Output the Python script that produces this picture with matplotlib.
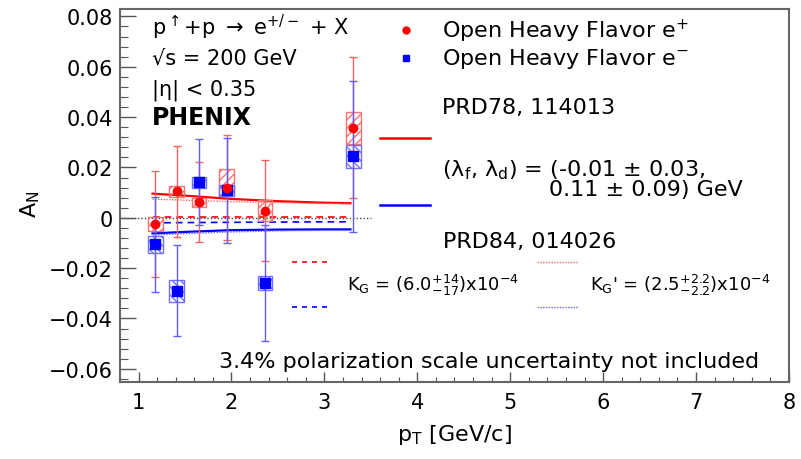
import numpy as np
import matplotlib
matplotlib.use("Agg")
import matplotlib.pyplot as plt
from matplotlib.patches import Rectangle
from matplotlib.ticker import MultipleLocator

plt.rcParams["font.family"] = ["DejaVu Sans"]
plt.rcParams["mathtext.default"] = "regular"

# data points (pT, A_N)
pt_pos = [1.18, 1.41, 1.65, 1.95, 2.36, 3.31]
an_pos = [-0.0025, 0.0105, 0.0062, 0.0120, 0.0029, 0.0357]
stat_pos = [0.021, 0.018, 0.016, 0.021, 0.020, 0.028]
sys_lo_pos = [0.0029, 0.0022, 0.0018, 0.0032, 0.0040, 0.0063]
sys_hi_pos = [0.0029, 0.0022, 0.0018, 0.0075, 0.0040, 0.0063]

pt_neg = [1.18, 1.41, 1.65, 1.95, 2.36, 3.31]
an_neg = [-0.0106, -0.0290, 0.0142, 0.0109, -0.0260, 0.0244]
stat_neg = [0.019, 0.018, 0.017, 0.021, 0.023, 0.030]
sys_neg = [0.0033, 0.0043, 0.0022, 0.0021, 0.0028, 0.0046]

# theory curves
th_x = [1.15, 1.5, 2.0, 2.5, 3.0, 3.28]
prd78_pos = [0.0096, 0.0088, 0.0075, 0.0066, 0.0060, 0.0058]
prd78_neg = [-0.0062, -0.0056, -0.0049, -0.0047, -0.0046, -0.0046]
kg_pos = [0.0004, 0.0004, 0.0004, 0.0004, 0.0004, 0.0004]
kg_neg = [-0.0020, -0.0019, -0.0018, -0.0017, -0.0016, -0.0016]
kgp_pos = [0.0074, 0.0070, 0.0064, 0.0060, 0.0057, 0.0056]
kgp_neg = [-0.0068, -0.0063, -0.0056, -0.0052, -0.0050, -0.0050]

RED = "#ff0000"
BLUE = "#0000ff"
box_w = 0.16

fig = plt.figure(figsize=(8.01, 4.60), dpi=100)
ax = fig.add_axes([0.1498, 0.167, 0.8352, 0.811])

# zero line
ax.plot([0.8, 3.5], [0, 0], color="#444444", ls=(0, (1, 1.5)), lw=1.0, zorder=1)

# theory
ax.plot(th_x, prd78_pos, color=RED, lw=1.6, zorder=2)
ax.plot(th_x, prd78_neg, color=BLUE, lw=1.6, zorder=2)
ax.plot(th_x, kg_pos, color=RED, lw=1.2, ls=(0, (4, 3)), zorder=2)
ax.plot(th_x, kg_neg, color=BLUE, lw=1.2, ls=(0, (4, 3)), zorder=2)
ax.plot(th_x, kgp_pos, color="#ff6666", lw=1.0, ls=(0, (1, 1)), zorder=2)
ax.plot(th_x, kgp_neg, color="#6666ff", lw=1.0, ls=(0, (1, 1)), zorder=2)

# systematic boxes
for x, y, lo, hi in zip(pt_pos, an_pos, sys_lo_pos, sys_hi_pos):
    ax.add_patch(Rectangle((x - box_w / 2, y - lo), box_w, lo + hi, fill=False,
                           edgecolor="#ff7070", hatch="////", lw=1.0, zorder=3))
for x, y, s in zip(pt_neg, an_neg, sys_neg):
    ax.add_patch(Rectangle((x - box_w / 2, y - s), box_w, 2 * s, fill=False,
                           edgecolor="#7070ff", hatch="\\\\\\\\", lw=1.0, zorder=3))

# statistical errors
ax.errorbar(pt_pos, an_pos, yerr=stat_pos, fmt="none", ecolor="#ff6060",
            elinewidth=1.0, capsize=3, capthick=1.0, zorder=4)
ax.errorbar(pt_neg, an_neg, yerr=stat_neg, fmt="none", ecolor="#6060ff",
            elinewidth=1.0, capsize=3, capthick=1.0, zorder=4)
ax.plot(pt_pos, an_pos, "o", color=RED, ms=6, zorder=6)
ax.plot(pt_neg, an_neg, "s", color=BLUE, ms=7, zorder=5)

ax.set_xlim(0.8, 8)
ax.set_ylim(-0.0653, 0.0829)
ax.xaxis.set_major_locator(MultipleLocator(1))
ax.xaxis.set_minor_locator(MultipleLocator(0.2))
ax.yaxis.set_major_locator(MultipleLocator(0.02))
ax.yaxis.set_minor_locator(MultipleLocator(0.004))
ax.tick_params(which="both", direction="in", top=False, right=False,
               labelsize=15, color="#555555")
ax.tick_params(axis="y", which="major", length=11.5, width=1.0, pad=5)
ax.tick_params(axis="y", which="minor", length=5.8, width=0.8)
ax.tick_params(axis="x", which="major", length=7, width=1.0, pad=7)
ax.tick_params(axis="x", which="minor", length=3.5, width=0.8)
ax.set_yticks([-0.06, -0.04, -0.02, 0, 0.02, 0.04, 0.06, 0.08])
ax.set_yticklabels(["\u22120.06", "\u22120.04", "\u22120.02", "0",
                    "0.02", "0.04", "0.06", "0.08"])
for s in ax.spines.values():
    s.set_color("#666666")
    s.set_linewidth(1.5)

ax.set_xlabel(r"p$_T$ [GeV/c]", fontsize=16, labelpad=7)
ax.set_ylabel(r"A$_N$", fontsize=16)
ax.yaxis.set_label_coords(-0.117, 0.48)

T = ax.transAxes
ax.text(0.048, 0.954, r"p$^{\uparrow}$+p $\rightarrow$ e$^{+/-}$ + X", transform=T,
        fontsize=15, va="center")
ax.text(0.048, 0.871, "\u221as = 200 GeV", transform=T, fontsize=15, va="center")
ax.text(0.048, 0.786, "|\u03b7| < 0.35", transform=T, fontsize=15, va="center")
ax.text(0.048, 0.71, "PHENIX", transform=T, fontsize=17, va="center", weight="bold")

ax.plot([0.4275], [0.944], "o", color=RED, ms=5, transform=T, clip_on=False)
ax.plot([0.4275], [0.869], "s", color=BLUE, ms=5, transform=T, clip_on=False)
ax.text(0.481, 0.944, r"Open Heavy Flavor e$^{+}$", transform=T, fontsize=16, va="center")
ax.text(0.481, 0.869, r"Open Heavy Flavor e$^{-}$", transform=T, fontsize=16, va="center")

ax.text(0.481, 0.737, "PRD78, 114013", transform=T, fontsize=16, va="center")
ax.plot([0.389, 0.463], [0.654, 0.654], color=RED, lw=1.8, transform=T)
ax.text(0.481, 0.547,
        "(\u03bb$_f$, \u03bb$_d$) = (-0.01 \u00b1 0.03,\n"
        "               0.11 \u00b1 0.09) GeV",
        transform=T, fontsize=16, va="center", linespacing=0.85)
ax.plot([0.389, 0.463], [0.475, 0.475], color=BLUE, lw=1.8, transform=T)

ax.text(0.483, 0.378, "PRD84, 014026", transform=T, fontsize=16, va="center")
ax.plot([0.257, 0.317], [0.322, 0.322], color=RED, lw=1.2, ls=(0, (3, 3)), transform=T)
ax.plot([0.257, 0.317], [0.201, 0.201], color=BLUE, lw=1.2, ls=(0, (3, 3)), transform=T)
ax.plot([0.623, 0.685], [0.322, 0.322], color="#ff6666", lw=1.0, ls=(0, (1, 1)), transform=T)
ax.plot([0.623, 0.685], [0.201, 0.201], color="#6666ff", lw=1.0, ls=(0, (1, 1)), transform=T)
ax.text(0.339, 0.263, r"K$_G$ = (6.0$^{+14}_{-17}$)x10$^{-4}$", transform=T,
        fontsize=13, va="center")
ax.text(0.703, 0.263, r"K$_G$' = (2.5$^{+2.2}_{-2.2}$)x10$^{-4}$", transform=T,
        fontsize=13, va="center")

ax.text(0.552, 0.056, "3.4% polarization scale uncertainty not included", transform=T,
        fontsize=16, va="center", ha="center")

fig.savefig("out.png", dpi=100)
